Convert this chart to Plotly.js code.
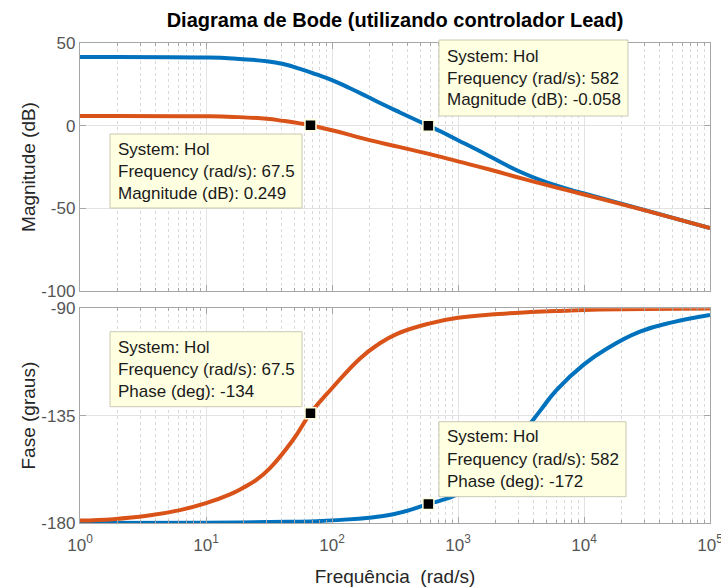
<!DOCTYPE html>
<html>
<head>
<meta charset="utf-8">
<script src="https://cdn.plot.ly/plotly-3.0.1.min.js"></script>
<style>html,body{margin:0;padding:0;background:#fff;}#chart{width:721px;height:588px;}</style>
</head>
<body>
<div id="chart"></div>
<script>
// ---- Data ----
// Magnitude (dB), blue system
const freqMagBlue = [1, 10, 16.5, 30.3, 41, 55.7, 75.5, 100, 139, 188, 255, 346, 582, 724, 1000, 1330, 1780, 3310, 6170, 10000, 28000, 100000];
const magBlue     = [41.5, 41.2, 40.6, 39.0, 37.3, 34.4, 31.0, 27.6, 22.6, 17.8, 12.8, 8.0, 0, -3.4, -8.8, -13.5, -18.5, -28.8, -36.5, -41.0, -50.3, -62];
// Magnitude (dB), orange system
const freqMagOrange = [1, 10, 16.5, 30.3, 41, 55.7, 67.5, 100, 139, 188, 346, 640, 1000, 1780, 3310, 6170, 10000, 28000, 100000];
const magOrange     = [5.9, 5.7, 5.3, 4.2, 2.9, 1.4, 0.249, -2.8, -5.6, -8.3, -13.0, -17.8, -21.6, -26.5, -32.2, -37.6, -41.6, -50.5, -62];
// Phase (deg), blue system
const freqPhaseBlue = [1, 10, 30, 100, 307, 582, 724, 1000, 1780, 3300, 4480, 6070, 10000, 15100, 27800, 51100, 100000];
const phaseBlue     = [-180, -179.9, -179.6, -178.9, -176.3, -172, -170.6, -167.8, -158.5, -142, -133, -124.2, -113.5, -107, -99.8, -95.8, -92.8];
// Phase (deg), orange system
const freqPhaseOrange = [1, 1.84, 3.4, 6.2, 10, 15.5, 19.6, 25.3, 32.2, 49.3, 67.5, 100, 167, 230, 325, 600, 1000, 2100, 3740, 6900, 10000, 30000, 100000];
const phaseOrange     = [-179.0, -178.4, -177.0, -174.6, -171.7, -168.0, -165.3, -161.8, -157.0, -145.0, -134, -123.5, -111.0, -105.3, -100.8, -96.3, -94.0, -92.4, -91.6, -91.0, -90.7, -90.3, -90.1];
// Data tips
const tipFreq  = [67.5, 582];
const tipMag   = [0.249, -0.058];
const tipPhase = [-134, -172];
// Tick labels
const xTickVals = [1, 10, 100, 1000, 10000, 100000];
const xTickText = ['10<sup>0</sup>', '10<sup>1</sup>', '10<sup>2</sup>', '10<sup>3</sup>', '10<sup>4</sup>', '10<sup>5</sup>'];
const xMinorVals = [];
[1, 10, 100, 1000, 10000].forEach(d => [2, 3, 4, 5, 6, 7, 8, 9].forEach(m => xMinorVals.push(m * d)));
const magTicks = [-100, -50, 0, 50];
const magTickText = ['-100', '-50', '0', '50'];
const phaseTicks = [-180, -135, -90];
const phaseTickText = ['-180', '-135', '-90'];

const BLUE = '#0072BD', ORANGE = '#D95319';
const FONT = 'Liberation Sans, Arial, Helvetica, sans-serif';
const lineStyle = c => ({color: c, width: 4, shape: 'spline', smoothing: 1.3});

const traces = [
  {x: freqMagBlue, y: magBlue, xaxis: 'x', yaxis: 'y', mode: 'lines', line: lineStyle(BLUE), hoverinfo: 'skip'},
  {x: freqMagOrange, y: magOrange, xaxis: 'x', yaxis: 'y', mode: 'lines', line: lineStyle(ORANGE), hoverinfo: 'skip'},
  {x: freqPhaseBlue, y: phaseBlue, xaxis: 'x2', yaxis: 'y2', mode: 'lines', line: lineStyle(BLUE), hoverinfo: 'skip'},
  {x: freqPhaseOrange, y: phaseOrange, xaxis: 'x2', yaxis: 'y2', mode: 'lines', line: lineStyle(ORANGE), hoverinfo: 'skip'},
  {x: tipFreq, y: tipMag, xaxis: 'x', yaxis: 'y', mode: 'markers',
   marker: {symbol: 'square', size: 11, color: '#000', line: {color: '#ffffe1', width: 1.5}}, hoverinfo: 'skip'},
  {x: tipFreq, y: tipPhase, xaxis: 'x2', yaxis: 'y2', mode: 'markers',
   marker: {symbol: 'square', size: 11, color: '#000', line: {color: '#ffffe1', width: 1.5}}, hoverinfo: 'skip'}
];

const AX = '#a6a6a6';
const xCommon = {
  type: 'log', range: [0, 5], tickmode: 'array', tickvals: xTickVals, ticktext: xTickText,
  showgrid: true, gridcolor: '#e3e3e3', gridwidth: 1,
  showline: true, linecolor: AX, linewidth: 1.2, mirror: 'allticks',
  ticks: 'inside', ticklen: 6, tickcolor: AX, zeroline: false,
  ticklabeloverflow: 'allow',
  tickfont: {family: FONT, size: 17, color: '#555'},
  minor: {tickmode: 'array', tickvals: xMinorVals, showgrid: true, gridcolor: '#dadada', griddash: 'dot', gridwidth: 1,
          ticks: 'inside', ticklen: 3, tickcolor: AX}
};
const yCommon = {
  showgrid: true, gridcolor: '#e3e3e3', gridwidth: 1, zeroline: false,
  showline: true, linecolor: AX, linewidth: 1.2, mirror: 'allticks',
  ticks: 'inside', ticklen: 6, tickcolor: AX, tickmode: 'array',
  tickfont: {family: FONT, size: 17, color: '#555'}
};

const TIPBG = '#ffffe1', TIPBORDER = '#c8c8b4';
function box(x0, x1, y0, y1) {
  return {type: 'rect', xref: 'paper', yref: 'paper', x0: x0, x1: x1, y0: y0, y1: y1,
          fillcolor: TIPBG, line: {color: TIPBORDER, width: 1}, layer: 'above'};
}
function txt(x, y, s) {
  return {xref: 'paper', yref: 'paper', x: x, y: y, xanchor: 'left', yanchor: 'middle',
          showarrow: false, text: s, font: {family: FONT, size: 17, color: '#1a1a1a'}};
}

const layout = {
  width: 721, height: 588,
  margin: {l: 80, r: 11, t: 43, b: 65},
  paper_bgcolor: '#fff', plot_bgcolor: '#fff',
  showlegend: false,
  title: {text: '<b>Diagrama de Bode (utilizando controlador Lead)</b>',
          font: {family: FONT, size: 20, color: '#000'},
          x: 0.5, xref: 'paper', xanchor: 'center', y: 1 - 20 / 588, yref: 'container', yanchor: 'middle'},
  xaxis: Object.assign({}, xCommon, {domain: [0, 1], anchor: 'y', showticklabels: false, matches: 'x2'}),
  xaxis2: Object.assign({}, xCommon, {domain: [0, 1], anchor: 'y2', ticklabelstandoff: 6,
          title: {text: 'Frequência \u00a0(rad/s)', font: {family: FONT, size: 19, color: '#262626'}, standoff: 16}}),
  yaxis: Object.assign({}, yCommon, {domain: [0.4833, 1], range: [-100, 50], tickvals: magTicks, ticktext: magTickText, anchor: 'x',
          title: {text: 'Magnitude (dB)', font: {family: FONT, size: 19, color: '#262626'}, standoff: 0}}),
  yaxis2: Object.assign({}, yCommon, {domain: [0, 0.4473], range: [-180, -90], tickvals: phaseTicks, ticktext: phaseTickText, anchor: 'x2',
          title: {text: 'Fase (graus)', font: {family: FONT, size: 19, color: '#262626'}, standoff: 0}}),
  shapes: [
    box(0.0476, 0.3524, 0.65625, 0.8104),
    box(0.5698, 0.8698, 0.8479, 1.00625),
    box(0.0476, 0.3524, 0.2423, 0.3985),
    box(0.5698, 0.8667, 0.0548, 0.2110)
  ],
  annotations: [
    txt(0.0571, 0.7771, 'System: Hol'),
    txt(0.0571, 0.7313, 'Frequency (rad/s): ' + tipFreq[0]),
    txt(0.0571, 0.6875, 'Magnitude (dB): ' + tipMag[0]),
    txt(0.5794, 0.9715, 'System: Hol'),
    txt(0.5794, 0.9265, 'Frequency (rad/s): ' + tipFreq[1]),
    txt(0.5794, 0.8813, 'Magnitude (dB): ' + tipMag[1]),
    txt(0.0571, 0.3660, 'System: Hol'),
    txt(0.0571, 0.3188, 'Frequency (rad/s): ' + tipFreq[0]),
    txt(0.0571, 0.2735, 'Phase (deg): ' + tipPhase[0]),
    txt(0.5794, 0.1798, 'System: Hol'),
    txt(0.5794, 0.1313, 'Frequency (rad/s): ' + tipFreq[1]),
    txt(0.5794, 0.0860, 'Phase (deg): ' + tipPhase[1])
  ]
};

Plotly.newPlot('chart', traces, layout, {staticPlot: true, displayModeBar: false});
</script>
</body>
</html>
